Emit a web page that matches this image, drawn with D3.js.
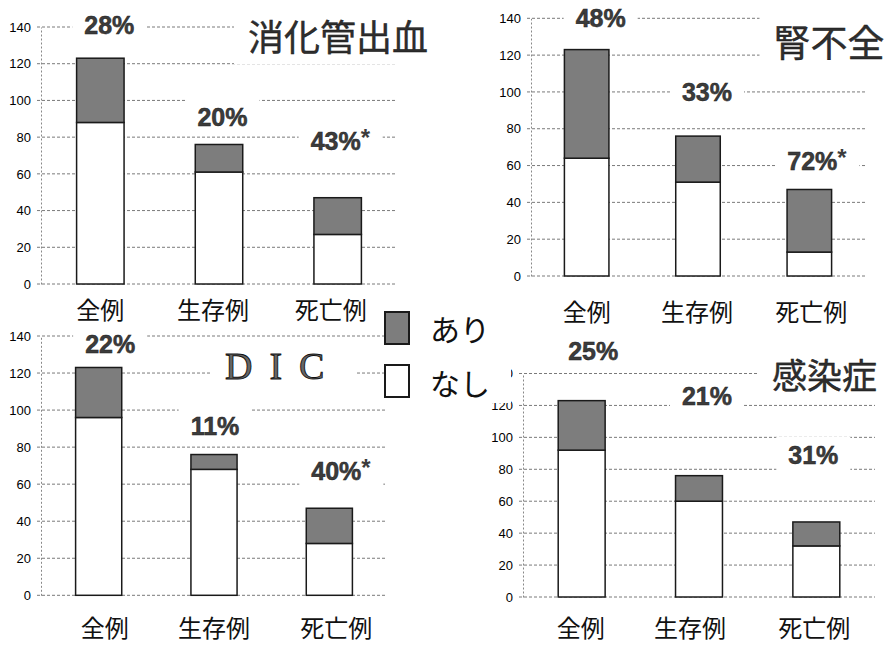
<!DOCTYPE html>
<html>
<head>
<meta charset="utf-8">
<script src="https://cdn.jsdelivr.net/npm/d3@7/dist/d3.min.js"></script>
<style>
  html, body { margin: 0; padding: 0; background: #fff; }
  svg { display: block; }
</style>
</head>
<body>
<svg id="chart" width="887" height="645"></svg>
<script>
// Patient groups shown under every panel
const categories = ["全例", "生存例", "死亡例"];
const yTicks = [0, 20, 40, 60, 80, 100, 120, 140];

// Complication present (あり) / absent (なし), counts per group
const gibNone = [88, 61, 27];
const gibWith = [35, 15, 20];
const gibPct = ["28%", "20%", "43%"];
const gibStar = [false, false, true];

const renalNone = [64, 51, 13];
const renalWith = [59, 25, 34];
const renalPct = ["48%", "33%", "72%"];
const renalStar = [false, false, true];

const dicNone = [96, 68, 28];
const dicWith = [27, 8, 19];
const dicPct = ["22%", "11%", "40%"];
const dicStar = [false, false, true];

const infNone = [92, 60, 32];
const infWith = [31, 16, 15];
const infPct = ["25%", "21%", "31%"];
const infStar = [false, false, false];

const legendLabels = ["あり", "なし"];

// Panel geometry (pixels)
const panels = [
  { title: "消化管出血", none: gibNone, with: gibWith, pct: gibPct, star: gibStar,
    x0: 41, x1: 397, y0: 284, yTop: 27, catY: 308, catDx: [0, -6, -7],
    titleX: 338, titleY: 35, titleSize: 36, titleSerif: false,
    lab: [[9, 34], [3.5, 126], [-2, 150]] },
  { title: "腎不全", none: renalNone, with: renalWith, pct: renalPct, star: renalStar,
    x0: 531, x1: 865, y0: 276, yTop: 18.3, catY: 310, catDx: [0, -1, 2],
    titleX: 829, titleY: 41, titleSize: 37, titleSerif: false,
    lab: [[14, 27], [9, 101], [3, 170]] },
  { title: "DIC", none: dicNone, with: dicWith, pct: dicPct, star: dicStar,
    x0: 41, x1: 387, y0: 595.3, yTop: 336, catY: 626, catDx: [6, 0, 7],
    titleX: 225, titleY: 379, titleSize: 38, titleSerif: true,
    lab: [[11.5, 353], [1, 435], [7, 480]] },
  { title: "感染症", none: infNone, with: infWith, pct: infPct, star: infStar,
    x0: 523, x1: 875, y0: 597, yTop: 373.5, catY: 626, catDx: [-1, -9, -2],
    titleX: 824.5, titleY: 373, titleSize: 35, titleSerif: false,
    lab: [[11.5, 360], [8, 405], [-3, 464]] }
];

const CJK = "'Noto Sans CJK JP', 'Noto Sans CJK SC', sans-serif";
const SANS = "'Liberation Sans', Arial, sans-serif";
const SERIF = "'Liberation Serif', 'DejaVu Serif', serif";
const GRAY = "#7d7d7d";
const TEXT = "#2e2e2e";

const svg = d3.select("#chart");

// white box behind a text node, so gridlines break around it
function knockout(g, textSel, px, py) {
  const b = textSel.node().getBBox();
  g.insert("rect", () => textSel.node())
    .attr("x", b.x - px).attr("y", b.y - py)
    .attr("width", b.width + 2 * px).attr("height", b.height + 2 * py)
    .attr("fill", "#fff");
}

panels.forEach(p => {
  const x = d3.scaleBand().domain(categories).range([p.x0, p.x1])
    .paddingInner(0.6).paddingOuter(0.3);
  const y = d3.scaleLinear().domain([0, 140]).range([p.y0, p.yTop]);

  const g = svg.append("g");

  // gridlines
  g.append("g").selectAll("line").data(yTicks).join("line")
    .attr("x1", p.x0 - 4).attr("x2", p.x1)
    .attr("y1", d => y(d)).attr("y2", d => y(d))
    .attr("stroke", "#7a7a7a").attr("stroke-width", 1)
    .attr("stroke-dasharray", "3,2");

  // y axis (dotted vertical line + tick labels)
  const axis = d3.axisLeft(y).tickValues(yTicks).tickSize(0).tickPadding(10);
  const ax = g.append("g").attr("transform", `translate(${p.x0},0)`).call(axis);
  ax.select(".domain").attr("stroke", "#888").attr("stroke-dasharray", "2,2");
  ax.selectAll("text").attr("font-family", SANS).attr("font-size", 13).attr("fill", "#000");

  // stacked bars: なし on the bottom, あり on top
  const stackData = categories.map((c, i) => ({ cat: c, none: p.none[i], with: p.with[i] }));
  const series = d3.stack().keys(["none", "with"])(stackData);
  g.append("g").selectAll("g").data(series).join("g")
    .attr("fill", d => d.key === "with" ? GRAY : "#fff")
    .selectAll("rect").data(d => d).join("rect")
    .attr("x", d => x(d.data.cat))
    .attr("width", x.bandwidth())
    .attr("y", d => y(d[1]))
    .attr("height", d => y(d[0]) - y(d[1]))
    .attr("stroke", "#1a1a1a").attr("stroke-width", 1.5);

  // percentage labels
  const lg = g.append("g");
  p.pct.forEach((t, i) => {
    const cx = x(categories[i]) + x.bandwidth() / 2 + p.lab[i][0];
    const txt = lg.append("text")
      .attr("x", cx).attr("y", p.lab[i][1])
      .attr("text-anchor", "middle")
      .attr("font-family", SANS).attr("font-weight", "bold").attr("font-size", 25)
      .attr("fill", "#3c3c3c").attr("stroke", "#1c1c1c").attr("stroke-width", 0.5)
      .text(t);
    const b = txt.node().getBBox();
    let right = b.x + b.width;
    if (p.star[i]) {
      const s = lg.append("text")
        .attr("x", right).attr("y", p.lab[i][1] - 4)
        .attr("font-family", SANS).attr("font-weight", "bold").attr("font-size", 24)
        .attr("fill", "#3c3c3c").text("*");
      right += s.node().getBBox().width;
    }
    lg.insert("rect", () => txt.node())
      .attr("x", b.x - 12).attr("y", b.y - 4)
      .attr("width", right - b.x + 24).attr("height", b.height + 8)
      .attr("fill", "#fff");
  });

  // category labels
  g.append("g").selectAll("text").data(categories).join("text")
    .attr("x", (d, i) => x(d) + x.bandwidth() / 2 + p.catDx[i])
    .attr("y", p.catY)
    .attr("text-anchor", "middle").attr("dominant-baseline", "central")
    .attr("font-family", CJK).attr("font-size", 24).attr("fill", "#111")
    .text(d => d);

  // panel title
  let title;
  if (p.titleSerif) {
    title = g.append("text")
      .attr("x", p.titleX).attr("y", p.titleY)
      .attr("font-family", SERIF).attr("font-size", p.titleSize)
      .attr("letter-spacing", "17px")
      .attr("fill", "#666").attr("stroke", "#111").attr("stroke-width", 0.9)
      .text(p.title);
  } else {
    title = g.append("text")
      .attr("x", p.titleX).attr("y", p.titleY)
      .attr("text-anchor", "middle").attr("dominant-baseline", "central")
      .attr("font-family", CJK).attr("font-size", p.titleSize)
      .attr("fill", TEXT).attr("stroke", "#111").attr("stroke-width", 0.4)
      .text(p.title);
  }
  knockout(g, title, 14, 3);
});

// legend
const legend = svg.append("g");
const swatches = [
  { label: legendLabels[0], fill: GRAY, y: 312, ty: 328 },
  { label: legendLabels[1], fill: "#fff", y: 365, ty: 382 }
];
legend.append("rect").attr("x", 424).attr("y", 356).attr("width", 87).attr("height", 47).attr("fill", "#fff");
swatches.forEach(s => {
  legend.append("rect")
    .attr("x", 385).attr("y", s.y).attr("width", 24).attr("height", 32)
    .attr("fill", s.fill).attr("stroke", "#1a1a1a").attr("stroke-width", 2);
  legend.append("text")
    .attr("x", 430).attr("y", s.ty)
    .attr("dominant-baseline", "central")
    .attr("font-family", CJK).attr("font-size", 30).attr("fill", "#111")
    .text(s.label);
});
</script>
</body>
</html>
